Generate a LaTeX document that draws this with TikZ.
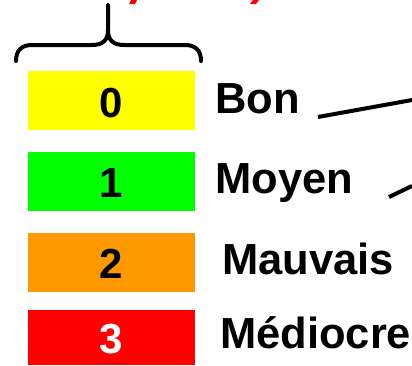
\documentclass[tikz,border=0pt]{standalone}
\usepackage{fontspec}
\setmainfont{Liberation Sans}
\definecolor{lvlyellow}{HTML}{FFFF00}
\definecolor{lvlgreen}{HTML}{00FF00}
\definecolor{lvlorange}{HTML}{FF9900}
\definecolor{lvlred}{HTML}{FF0000}
\tikzset{
  lvlbox/.style={fill=#1, draw=none},
  digit/.style={anchor=base, inner sep=0pt, font=\fontsize{42}{42}\selectfont\bfseries},
  lvllabel/.style={anchor=base west, inner sep=0pt, font=\fontsize{43.5}{43.5}\selectfont\bfseries},
  thickline/.style={line width=4pt, line cap=butt}
}
\begin{document}
\begin{tikzpicture}[x=1pt, y=-1pt]
  \useasboundingbox (0,0) rectangle (412,365);

  % fragments of the red heading above the brace
  \fill[lvlred] (131,0) -- (137,0) -- (135,4) -- (129,4) -- cycle;
  \fill[lvlred] (253,0) -- (259,0) -- (256,4) -- (250,4) -- cycle;

  % curly brace over the colour scale
  \draw[line width=4pt, line cap=round, line join=round]
    (16,61) .. controls (16,50) and (22,45) .. (32,45)
    -- (92,45) .. controls (103,45) and (108,40) .. (108,30)
    -- (108,5);
  \draw[line width=4pt, line cap=round, line join=round]
    (201,61) .. controls (201,50) and (195,45) .. (185,45)
    -- (124,45) .. controls (113,45) and (108,40) .. (108,30);

  % colour boxes
  \fill[lvlbox=lvlyellow] (28,71) rectangle (195,130);
  \fill[lvlbox=lvlgreen]  (28,152) rectangle (195,211);
  \fill[lvlbox=lvlorange] (28,233) rectangle (195,292);
  \fill[lvlbox=lvlred]    (28,310) rectangle (195,365);

  \node[digit] (d0) at (111.5,117) {0};
  \node[digit] (d1) at (111.5,197) {1};
  \node[digit] (d2) at (111.5,278) {2};
  \node[digit, text=white] (d3) at (111.5,353) {3};

  % quality labels
  \node[lvllabel] (bon)   at (215,113) {Bon};
  \node[lvllabel] (moyen) at (215,193) {Moyen};
  \node[lvllabel] (mauv)  at (222,274) {Mauvais};
  \node[lvllabel] (medio) at (220,348) {Médiocre};

  % leader lines running off to the right
  \coordinate (b1) at (318,117);
  \coordinate (b2) at (412,100);
  \coordinate (m1) at (389,197);
  \coordinate (m2) at (412,186);
  \draw[thickline] (b1) -- (b2);
  \draw[thickline] (m1) -- (m2);
\end{tikzpicture}
\end{document}
